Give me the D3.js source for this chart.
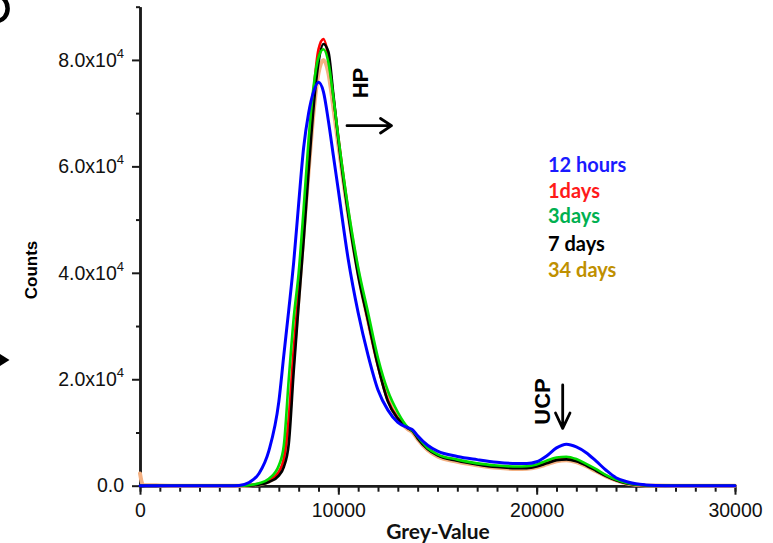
<!DOCTYPE html>
<html>
<head>
<meta charset="utf-8">
<script src="https://cdn.jsdelivr.net/npm/d3@7"></script>
<style>
  body { margin: 0; background: #fff; }
  svg { display: block; }
</style>
</head>
<body>
<svg id="chart" width="773" height="543"></svg>
<script>
// Grey-value histogram bins (x positions shared by every series)
const greyValues = [0, 150, 1000, 2000, 3000, 4000, 4500, 5000, 5500, 6000,
  6500, 7000, 7250, 7500, 7750, 8000, 8250, 8500, 8750, 9000,
  9250, 9500, 9750, 10000, 10500, 11000, 11500, 12000, 12500, 13000,
  13500, 13750, 14000, 14500, 15000, 16000, 17000, 18000, 19000, 19500,
  20000, 20500, 21000, 21500, 22000, 22500, 23000, 23500, 24000, 24500,
  25000, 25500, 26000, 27000, 28000, 30000];

// Pixel counts per bin for each curing time
const counts12h = [0, 0, 0, 0, 0, 0, 0, 60, 600, 2300,
  6600, 15800, 24500, 33000, 42000, 53000, 63500, 70000, 74000, 75800,
  74000, 68500, 62000, 55500, 42500, 32500, 24500, 18000, 14200, 11900,
  10900, 10500, 9400, 7600, 6500, 5500, 4900, 4400, 4150, 4150,
  4500, 5600, 7100, 7800, 7300, 6200, 4600, 2900, 1500, 800,
  350, 150, 60, 0, 0, 0];
const counts1d = [0, 0, 0, 0, 0, 0, 0, 0, 80, 300,
  900, 2600, 5000, 12500, 25500, 36500, 49000, 62000, 74000, 82000,
  83900, 80500, 73000, 65500, 51500, 40000, 31000, 22500, 16000, 12700,
  10900, 10300, 9000, 7000, 5800, 4800, 4100, 3600, 3400, 3400,
  3700, 4300, 4900, 5050, 4700, 3900, 2900, 1900, 1050, 500,
  200, 80, 20, 0, 0, 0];
const counts3d = [0, 0, 0, 0, 0, 0, 0, 0, 100, 450,
  1300, 3800, 7500, 20000, 31500, 40000, 52000, 65000, 75000, 80500,
  82000, 79500, 73000, 65500, 52000, 41000, 32500, 24000, 17800, 13800,
  11000, 10300, 9200, 7100, 5900, 4900, 4200, 3800, 3600, 3650,
  4000, 4700, 5300, 5450, 5000, 4100, 3100, 2000, 1150, 550,
  220, 80, 20, 0, 0, 0];
const counts7d = [0, 0, 0, 0, 0, 0, 0, 0, 20, 200,
  700, 1900, 3500, 7800, 21500, 34000, 46000, 59000, 71000, 79500,
  83000, 81500, 73500, 65000, 51000, 39500, 31000, 22500, 15800, 12600,
  10800, 10200, 8900, 6900, 5700, 4700, 4000, 3500, 3300, 3300,
  3600, 4200, 4800, 4950, 4600, 3800, 2800, 1800, 1000, 450,
  180, 60, 20, 0, 0, 0];
const counts34d = [2300, 150, 50, 0, 0, 0, 0, 0, 50, 250,
  800, 2400, 4500, 11500, 24500, 35500, 47500, 59000, 70000, 77500,
  80000, 77500, 71000, 64000, 51000, 40000, 31000, 22800, 16300, 12600,
  10600, 10000, 8700, 6700, 5500, 4500, 3850, 3350, 3150, 3200,
  3450, 4000, 4600, 4800, 4450, 3650, 2700, 1750, 1000, 450,
  180, 60, 20, 0, 0, 0];

const seriesNames = ["12 hours", "1days", "3days", "7 days", "34 days"];
const xMajorTicks = [0, 10000, 20000, 30000];
const yMajorTicks = [0, 20000, 40000, 60000, 80000];

// ---- layout ----
const svg = d3.select("#chart");
const x = d3.scaleLinear().domain([0, 30000]).range([140, 735]);
const y = d3.scaleLinear().domain([0, 90000]).range([485.7, 6.7]);

const axisColor = "#1a1a1a";
const tickFont = "'Liberation Sans', Arial, sans-serif";
const titleFont = "Lato, 'Open Sans', sans-serif";

// x axis: minor ticks every 1000, labelled majors every 10000
const xMinor = svg.append("g").attr("transform", `translate(0,${y(0)})`)
  .call(d3.axisBottom(x).tickValues(d3.range(0, 30001, 1000)).tickSize(6).tickSizeOuter(0).tickFormat(""));
const xMajor = svg.append("g").attr("transform", `translate(0,${y(0)})`)
  .call(d3.axisBottom(x).tickValues(xMajorTicks).tickSize(9).tickSizeOuter(0).tickPadding(8).tickFormat(d3.format("d")));

// y axis: minor ticks every 10000, labelled majors every 20000
const yMinor = svg.append("g").attr("transform", `translate(${x(0)},0)`)
  .call(d3.axisLeft(y).tickValues(d3.range(10000, 90001, 20000)).tickSize(4).tickSizeOuter(0).tickFormat(""));
const yMajor = svg.append("g").attr("transform", `translate(${x(0)},0)`)
  .call(d3.axisLeft(y).tickValues(yMajorTicks).tickSize(8).tickSizeOuter(0).tickPadding(8).tickFormat(""));

[xMinor, xMajor, yMinor, yMajor].forEach(g => {
  g.selectAll("path.domain").attr("stroke", axisColor).attr("stroke-width", 2.5);
  g.selectAll(".tick line").attr("stroke", axisColor).attr("stroke-width", 2);
  g.selectAll(".tick text").attr("fill", "#111").style("font-family", tickFont).style("font-size", "19.5px");
});

// scientific labels: m.0x10^4
yMajor.selectAll(".tick text").each(function (d) {
  const t = d3.select(this);
  if (d === 0) { t.text("0.0"); return; }
  t.append("tspan").text((d / 10000).toFixed(1) + "x10");
  t.append("tspan").attr("dy", "-9px").style("font-size", "13px").text("4");
});

// ---- curves ----
const line = d3.line()
  .x(d => x(d[0]))
  .y(d => y(d[1]))
  .curve(d3.curveMonotoneX);

const seriesData = {
  "12 hours": counts12h, "1days": counts1d, "3days": counts3d,
  "7 days": counts7d, "34 days": counts34d
};
const lineColor = { "12 hours": "#0000ff", "1days": "#ff0000", "3days": "#00dd00", "7 days": "#000000", "34 days": "#f4b183" };
const lineWidth = { "12 hours": 3, "1days": 2.6, "3days": 2.6, "7 days": 2.6, "34 days": 4 };
const drawOrder = ["34 days", "1days", "7 days", "3days", "12 hours"];

drawOrder.forEach(name => {
  const pts = greyValues.map((g, i) => [g, seriesData[name][i]]);
  svg.append("path")
    .attr("d", line(pts))
    .attr("fill", "none")
    .attr("stroke", lineColor[name])
    .attr("stroke-width", lineWidth[name])
    .attr("stroke-linejoin", "round")
    .attr("stroke-linecap", "round");
});

// ---- axis titles ----
svg.append("text")
  .attr("transform", "translate(37,270) rotate(-90)")
  .attr("text-anchor", "middle")
  .style("font-family", tickFont).style("font-weight", "bold").style("font-size", "17px")
  .text("Counts");

svg.append("text")
  .attr("x", 438).attr("y", 539)
  .attr("text-anchor", "middle")
  .style("font-family", titleFont).style("font-weight", "bold").style("font-size", "21px")
  .attr("fill", "#111")
  .text("Grey-Value");

// ---- legend ----
const legendColor = { "12 hours": "#1a1aff", "1days": "#ff1a1a", "3days": "#00b050", "7 days": "#000000", "34 days": "#bf9000" };
const legendY = [172, 197.5, 223, 250.5, 277];
seriesNames.forEach((name, i) => {
  svg.append("text")
    .attr("x", 548).attr("y", legendY[i])
    .style("font-family", titleFont).style("font-weight", "bold").style("font-size", "20px")
    .attr("fill", legendColor[name])
    .text(name);
});

// ---- peak annotations ----
svg.append("text")
  .attr("transform", "translate(367.5,83) rotate(-90)")
  .attr("text-anchor", "middle")
  .style("font-family", tickFont).style("font-weight", "bold").style("font-size", "22px")
  .text("HP");
svg.append("path")
  .attr("d", "M347,125.7 L391,125.7 M380.5,118.5 L391.5,125.7 L380.5,133")
  .attr("fill", "none").attr("stroke", "#000").attr("stroke-width", 2.8)
  .attr("stroke-linecap", "round").attr("stroke-linejoin", "round");

svg.append("text")
  .attr("transform", "translate(549.5,401.5) rotate(-90)")
  .attr("text-anchor", "middle")
  .style("font-family", tickFont).style("font-weight", "bold").style("font-size", "22px")
  .text("UCP");
svg.append("path")
  .attr("d", "M562.7,385 L562.7,428 M555.5,413 L562.7,428.3 L570,413")
  .attr("fill", "none").attr("stroke", "#000").attr("stroke-width", 2.8)
  .attr("stroke-linecap", "round").attr("stroke-linejoin", "round");

// ---- neighbouring panel fragments at the left edge ----
svg.append("path")
  .attr("d", "M-4,-4 C11.5,-4 11.5,21 -4,21")
  .attr("fill", "none").attr("stroke", "#000").attr("stroke-width", 4.5);
svg.append("path")
  .attr("d", "M0,354 L9.5,360 L0,366 Z")
  .attr("fill", "#000");
</script>
</body>
</html>
